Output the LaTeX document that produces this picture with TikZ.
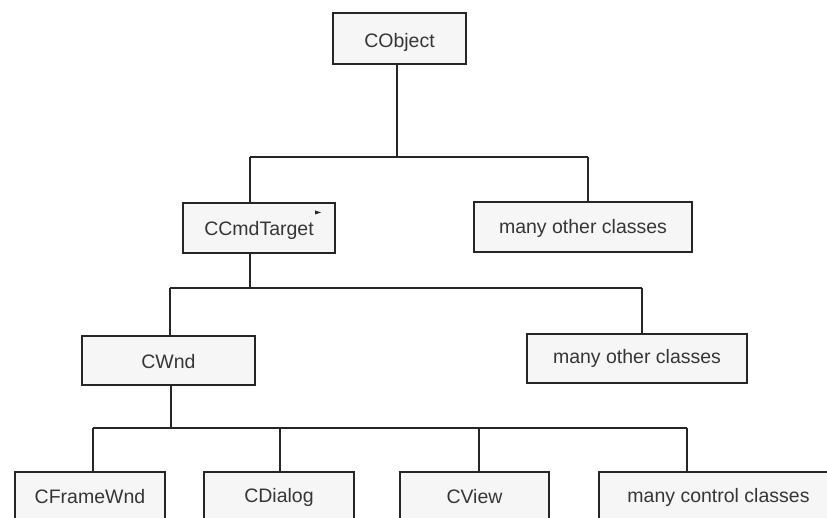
\documentclass[tikz,border=0pt]{standalone}
\usepackage{fontspec}
\setmainfont{Liberation Sans}
\definecolor{inkline}{HTML}{262626}
\definecolor{inktext}{HTML}{363636}
\definecolor{boxfill}{HTML}{F6F6F6}
% lower a label inside its box without changing the box's reported size
\newcommand{\dropby}[2]{\raisebox{-#1}[\height][\depth]{#2}}
\begin{document}
\begin{tikzpicture}[x=1pt,y=-1pt,
  classbox/.style={draw=inkline, line width=1.7pt, fill=boxfill, text=inktext,
    rectangle, inner sep=0pt, font=\fontsize{19.5}{23}\selectfont},
  wire/.style={draw=inkline, line width=1.6pt}]
\useasboundingbox (0,0) rectangle (827,518);
\clip (0,0) rectangle (827,518);

% class boxes
\node[classbox, minimum width=133pt, minimum height=51pt] (cobj) at (399.5,38.5) {\dropby{4pt}{CObject}};
\node[classbox, minimum width=152pt, minimum height=50pt] (ccmd) at (259,228) {\dropby{2pt}{CCmdTarget}};
\node[classbox, minimum width=218pt, minimum height=50pt] (oth1) at (583,227) {\dropby{1.5pt}{many other classes}};
\node[classbox, minimum width=173pt, minimum height=49pt] (cwnd) at (168.5,360.5) {\dropby{1pt}{CWnd}};
\node[classbox, minimum width=220pt, minimum height=49pt] (oth2) at (637,358.5) {many other classes};
\node[classbox, minimum width=150pt, minimum height=50pt] (cfrm) at (90,497) {CFrameWnd};
\node[classbox, minimum width=150pt, minimum height=50pt] (cdlg) at (279,497) {CDialog};
\node[classbox, minimum width=149pt, minimum height=50pt] (cview) at (474.5,497) {CView};
\node[classbox, minimum width=239pt, minimum height=50pt] (ctrl) at (718.5,497) {many control classes};

% small mark beside CCmdTarget
\fill[inkline] (315,210.5) -- (321,212.5) -- (315,214.5) -- cycle;

% bus points
\coordinate (t1) at (397,157);
\coordinate (b1l) at (250,157);
\coordinate (b1r) at (588,157);
\coordinate (t2) at (250,288);
\coordinate (b2l) at (170,288);
\coordinate (b2r) at (642,288);
\coordinate (t3) at (171,428);
\coordinate (b3a) at (93,428);
\coordinate (b3b) at (280,428);
\coordinate (b3c) at (479,428);
\coordinate (b3d) at (687,428);

% CObject level
\draw[wire] (cobj.south -| t1) -- (t1);
\draw[wire] (b1l) -- (b1r);
\draw[wire] (b1l) -- (ccmd.north -| b1l);
\draw[wire] (b1r) -- (oth1.north -| b1r);

% CCmdTarget level
\draw[wire] (ccmd.south -| t2) -- (t2);
\draw[wire] (b2l) -- (b2r);
\draw[wire] (b2l) -- (cwnd.north -| b2l);
\draw[wire] (b2r) -- (oth2.north -| b2r);

% CWnd level
\draw[wire] (cwnd.south -| t3) -- (t3);
\draw[wire] (b3a) -- (b3d);
\draw[wire] (b3a) -- (cfrm.north -| b3a);
\draw[wire] (b3b) -- (cdlg.north -| b3b);
\draw[wire] (b3c) -- (cview.north -| b3c);
\draw[wire] (b3d) -- (ctrl.north -| b3d);
\end{tikzpicture}
\end{document}
